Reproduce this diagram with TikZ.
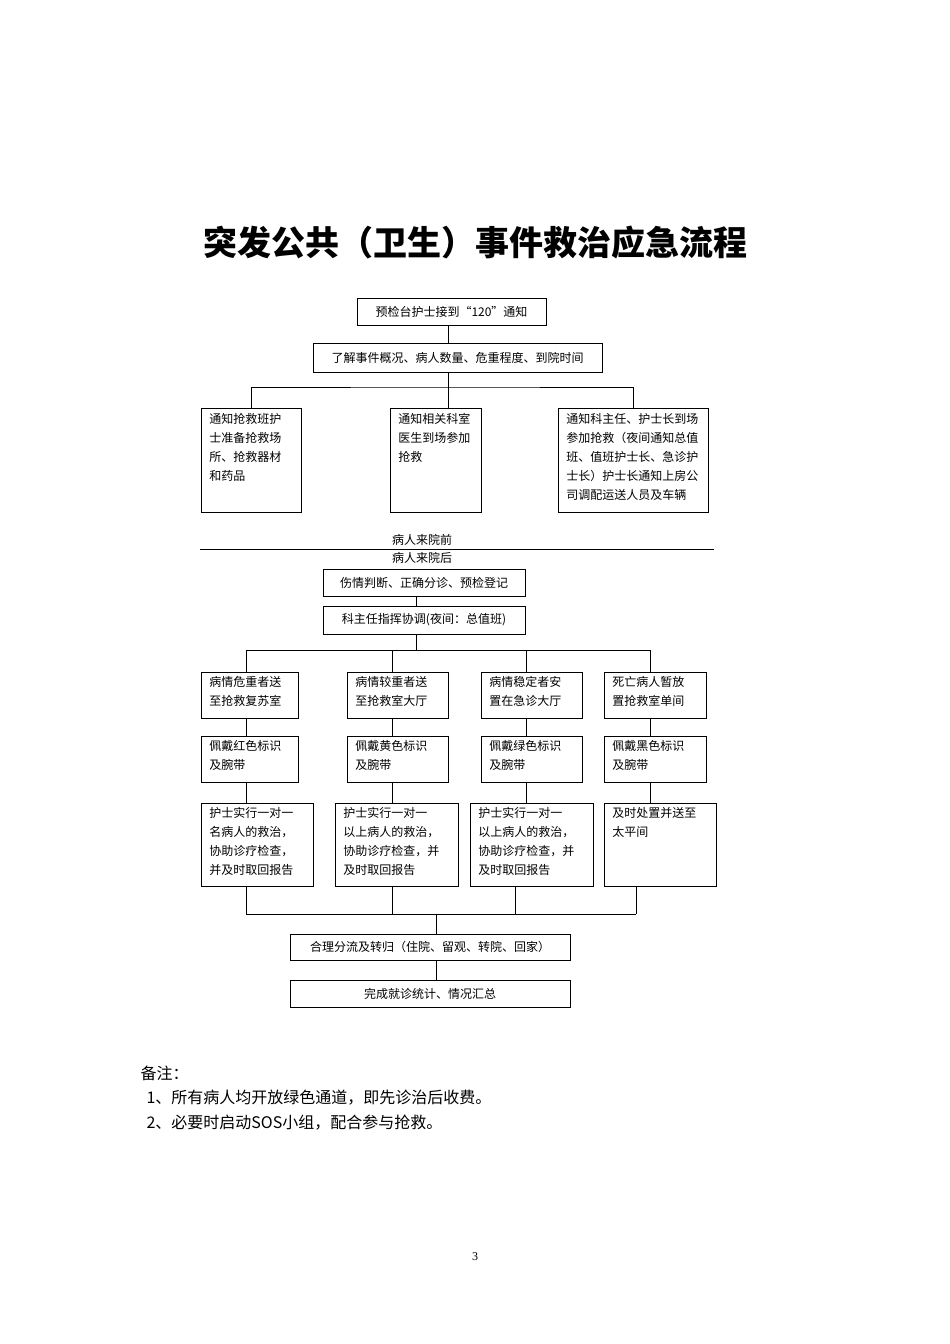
\documentclass[tikz,border=0pt]{standalone}
\usepackage{fontspec}
\setmainfont{Liberation Serif}
\newfontfamily\cjk{Noto Sans CJK SC}
\newcommand{\bt}[3]{\begin{minipage}[t][#2pt][t]{#1pt}\fontsize{12}{19}\selectfont\cjk\raggedright #3\end{minipage}}
\begin{document}
\begin{tikzpicture}[x=1pt,y=-1pt,
  bx/.style={draw,thick,inner sep=0pt,anchor=north west},
  ln/.style={draw,thick},
  cb/.style={draw,thick,anchor=center,font=\cjk\fontsize{12}{14}\selectfont,inner sep=0pt}]
\useasboundingbox (0,0) rectangle (950,1344);
\node[font=\cjk\bfseries\fontsize{34}{40}\selectfont] (title) at (475,243) {突发公共（卫生）事件救治应急流程};
% top
\node[cb,minimum width=189pt,minimum height=27pt] (b1) at (451.5,311.5) {预检台护士接到“120”通知};
\node[cb,minimum width=289pt,minimum height=29pt] (b2) at (457.5,357.5) {了解事件概况、病人数量、危重程度、到院时间};
\node[bx,inner xsep=8pt,inner ysep=5pt] (b3a) at (201,408) {\bt{84}{94}{通知抢救班护\\士准备抢救场\\所、抢救器材\\和药品}};
\node[bx,inner xsep=8pt,inner ysep=5pt] (b3b) at (390,408) {\bt{75}{94}{通知相关科室\\医生到场参加\\抢救}};
\node[bx,inner xsep=8pt,inner ysep=5pt] (b3c) at (558,408) {\bt{134}{94}{通知科主任、护士长到场\\参加抢救（夜间通知总值\\班、值班护士长、急诊护\\士长）护士长通知上房公\\司调配运送人员及车辆}};
\coordinate (j1) at (448,387);
\draw[ln] (j1 |- b1.south) -- (j1 |- b2.north);
\draw[ln] (j1 |- b2.south) -- (j1);
\draw[ln] (b3a.north) |- (j1) -| (b3c.north);
\draw[ln] (j1) -- (j1 |- b3b.north);
% separator
\coordinate (sl) at (200,549); \coordinate (sr) at (714,549);
\draw[thick] (sl) -- (sr);
\node[font=\cjk\fontsize{12}{14}\selectfont] (pre) at (422,540) {病人来院前};
\node[font=\cjk\fontsize{12}{14}\selectfont] (post) at (422,558) {病人来院后};
\node[cb,minimum width=202pt,minimum height=27pt] (b4) at (424,582.5) {伤情判断、正确分诊、预检登记};
\node[cb,minimum width=202pt,minimum height=28pt] (b5) at (424,620) {科主任指挥协调(夜间：总值班)};
\coordinate (j2) at (416,650);
\draw[ln] (j2 |- b4.south) -- (j2 |- b5.north);
% rows
\foreach \n/\x/\w/\t in {a/201/97/病情危重者送\\至抢救复苏室, b/347/101/病情较重者送\\至抢救室大厅, c/481/101/病情稳定者安\\置在急诊大厅, d/604/102/死亡病人暂放\\置抢救室单间}
  \node[bx,inner xsep=8pt,inner ysep=4pt] (r6\n) at (\x,672) {\bt{\the\numexpr\w-16\relax}{38}{\t}};
\foreach \n/\x/\w/\t in {a/201/97/佩戴红色标识\\及腕带, b/347/101/佩戴黄色标识\\及腕带, c/481/101/佩戴绿色标识\\及腕带, d/604/102/佩戴黑色标识\\及腕带}
  \node[bx,inner xsep=8pt,inner ysep=4pt] (r7\n) at (\x,736) {\bt{\the\numexpr\w-16\relax}{38}{\t}};
\foreach \n/\x/\w/\t in {a/201/112/护士实行一对一\\名病人的救治，\\协助诊疗检查，\\并及时取回报告, b/335/123/护士实行一对一\\以上病人的救治，\\协助诊疗检查，并\\及时取回报告, c/470/123/护士实行一对一\\以上病人的救治，\\协助诊疗检查，并\\及时取回报告, d/604/112/及时处置并送至\\太平间}
  \node[bx,inner xsep=8pt,inner ysep=4pt] (r8\n) at (\x,803) {\bt{\the\numexpr\w-16\relax}{75}{\t}};
\draw[ln] (j2 |- b5.south) -- (j2);
\draw[ln] (246,650) -- (650,650);
\foreach \n/\x in {a/246,b/392,c/526,d/650}{
  \draw[ln] (\x,650) -- (\x,672);
  \draw[ln] (\x,718) -- (\x,736);
  \draw[ln] (\x,782) -- (\x,803);
}
\coordinate (j3) at (436,914);
\draw[ln] (246,914) -- (636,914);
\foreach \x in {246,392,515,636} \draw[ln] (\x,886) -- (\x,914);
\node[cb,minimum width=280pt,minimum height=26pt] (b9) at (430,947) {合理分流及转归（住院、留观、转院、回家）};
\node[cb,minimum width=280pt,minimum height=27pt] (b10) at (430,993.5) {完成就诊统计、情况汇总};
\draw[ln] (j3) -- (j3 |- b9.north);
\draw[ln] (j3 |- b9.south) -- (j3 |- b10.north);
% notes
\node[anchor=west,font=\cjk\fontsize{16}{18}\selectfont] (n0) at (137,1073) {备注：};
\node[anchor=west,font=\cjk\fontsize{16}{18}\selectfont] (n1) at (143,1098) {1、所有病人均开放绿色通道，即先诊治后收费。};
\node[anchor=west,font=\cjk\fontsize{16}{18}\selectfont] (n2) at (143,1123) {2、必要时启动SOS小组，配合参与抢救。};
\node[font=\fontsize{12}{14}\selectfont] (pg) at (475,1257) {3};
\end{tikzpicture}
\end{document}
